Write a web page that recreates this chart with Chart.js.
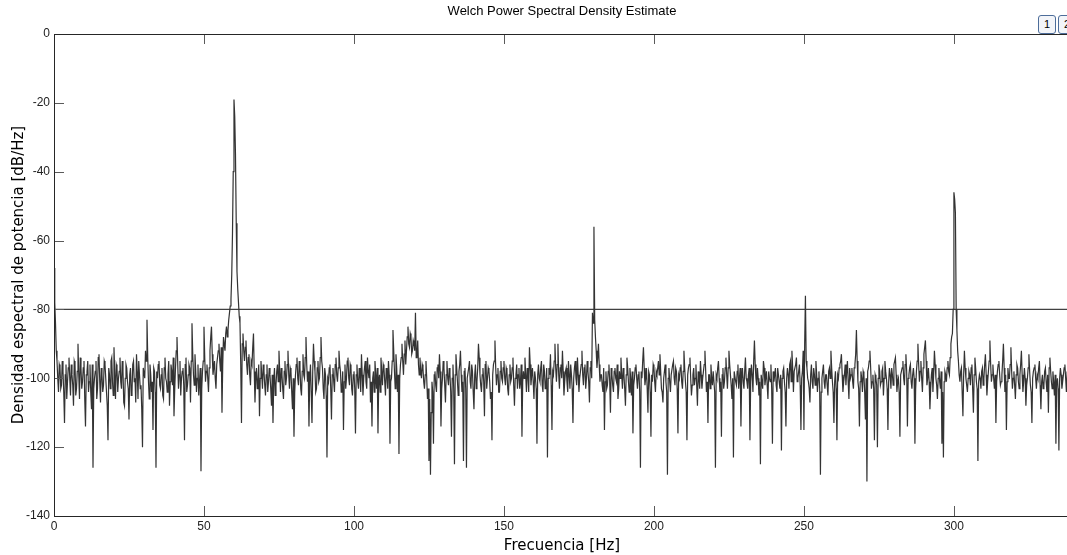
<!DOCTYPE html>
<html>
<head>
<meta charset="utf-8">
<script src="https://cdn.jsdelivr.net/npm/chart.js@4.4.1/dist/chart.umd.min.js"></script>
<style>
    html, body { margin: 0; padding: 0; background: #fff; overflow: hidden; width: 1067px; height: 555px; }
    #wrap { position: absolute; left: 0; top: 0; width: 1075px; height: 555px; }
    .btn { position: absolute; top: 15px; width: 16px; height: 17px; border: 1px solid #4d6d9a; border-radius: 3px;
           background: #f3f5f9; font: 11px "Liberation Sans", Arial, sans-serif; text-align: center; line-height: 17px; color: #000; }
</style>
</head>
<body>
<div id="wrap"><canvas id="psdChart" width="1075" height="555"></canvas></div>
<div class="btn" style="left:1038px">1</div>
<div class="btn" style="left:1058px">2</div>
<script>
// frequency step of the estimate (Hz) and axis limits
const df = 0.25;
const xMax = 338.7;
const xTicks = [0, 50, 100, 150, 200, 250, 300];
const yTicks = [0, -20, -40, -60, -80, -100, -120, -140];
const threshold = -80;

// PSD values in dB/Hz, on the whole half-hertz (f = 0, 0.5, 1, ...)
const psd000 = [ // 0 - 49.5 Hz
    -68, -84, -95, -104, -97, -102, -98, -113, -96, -101, -94, -105, -99, -108, -96, -103, -90, -106, -97, -101,
    -95, -114, -98, -104, -96, -109, -126, -100, -95, -103, -93, -107, -99, -102, -96, -104, -118, -99, -95, -101,
    -91, -106, -97, -100, -94, -103, -98, -108, -96, -101, -112, -97, -104, -95, -100, -93, -106, -99, -102, -120,
    -97, -92, -83, -101, -96, -104, -115, -98, -126, -100, -95, -103, -97, -106, -94, -101, -99, -108, -96, -102,
    -111, -97, -88, -103, -95, -100, -97, -118, -94, -102, -96, -107, -84, -99, -93, -104, -96, -101, -127, -98
];
const psd050 = [ // 50 - 99.5 Hz
    -85, -101, -96, -104, -92, -85, -99, -95, -103, -94, -90, -98, -110, -88, -92, -85, -86, -81, -77, -58,
    -19, -35, -69, -78, -84, -113, -87, -95, -89, -99, -93, -102, -96, -87, -107, -97, -101, -111, -95, -103,
    -98, -105, -96, -101, -99, -108, -113, -97, -102, -96, -92, -104, -99, -106, -95, -100, -92, -103, -98, -109,
    -117, -99, -94, -102, -97, -105, -93, -100, -88, -101, -114, -96, -113, -90, -98, -103, -95, -100, -88, -97,
    -106, -99, -123, -101, -96, -112, -97, -104, -94, -101, -92, -98, -103, -115, -96, -100, -94, -102, -97, -105
];
const psd100 = [ // 100 - 149.5 Hz
    -98, -116, -96, -103, -99, -93, -105, -97, -101, -94, -100, -107, -114, -98, -95, -103, -116, -99, -94, -102,
    -97, -105, -99, -95, -119, -100, -86, -98, -93, -104, -122, -96, -90, -99, -89, -92, -85, -91, -88, -92,
    -90, -81, -93, -96, -94, -100, -97, -103, -95, -106, -124, -128, -101, -119, -98, -104, -96, -93, -114, -100,
    -97, -107, -95, -102, -99, -117, -96, -125, -93, -101, -98, -92, -104, -124, -97, -126, -100, -95, -103, -98,
    -109, -96, -101, -90, -99, -104, -97, -111, -95, -100, -98, -106, -118, -96, -89, -102, -97, -104, -95, -101
];
const psd150 = [ // 150 - 199.5 Hz
    -95, -102, -98, -105, -96, -100, -94, -108, -99, -103, -97, -101, -117, -98, -94, -104, -99, -91, -102, -97,
    -106, -100, -119, -96, -101, -95, -104, -98, -102, -123, -97, -93, -115, -99, -90, -101, -90, -103, -96, -92,
    -105, -98, -101, -95, -103, -99, -113, -97, -100, -94, -104, -98, -92, -102, -96, -100, -98, -107, -95, -81,
    -56, -88, -97, -90, -101, -99, -104, -115, -98, -102, -96, -110, -99, -104, -97, -101, -106, -98, -94, -103,
    -99, -108, -94, -101, -97, -105, -116, -100, -96, -103, -98, -126, -100, -91, -102, -97, -110, -99, -117, -101
];
const psd200 = [ // 200 - 249.5 Hz
    -97, -104, -99, -95, -93, -103, -107, -98, -101, -128, -97, -104, -99, -95, -102, -98, -116, -100, -96, -103,
    -92, -101, -118, -97, -94, -105, -99, -102, -96, -108, -100, -95, -103, -98, -92, -104, -113, -99, -96, -102,
    -98, -126, -100, -95, -104, -117, -97, -101, -94, -103, -92, -99, -106, -123, -98, -102, -96, -100, -114, -97,
    -103, -94, -101, -99, -118, -96, -104, -89, -100, -97, -105, -125, -99, -95, -102, -98, -106, -100, -96, -119,
    -101, -97, -104, -99, -103, -121, -98, -101, -114, -97, -103, -95, -92, -104, -98, -94, -100, -96, -115, -98
];
const psd250 = [ // 250 - 299.5 Hz
    -115, -76, -97, -101, -107, -96, -103, -99, -95, -104, -98, -128, -100, -96, -103, -99, -105, -97, -92, -101,
    -113, -98, -118, -100, -96, -93, -104, -99, -102, -95, -106, -100, -97, -103, -96, -86, -101, -114, -98, -104,
    -99, -112, -130, -97, -92, -103, -99, -118, -100, -120, -96, -102, -98, -105, -95, -100, -115, -97, -103, -99,
    -96, -94, -104, -100, -117, -98, -95, -102, -93, -114, -99, -96, -103, -97, -119, -98, -90, -101, -95, -104,
    -93, -89, -102, -97, -109, -99, -104, -92, -100, -106, -97, -103, -119, -123, -98, -101, -95, -99, -90, -87
];
const psd300 = [ // 300 - 338.5 Hz
    -46, -52, -86, -95, -101, -97, -111, -92, -100, -104, -98, -102, -96, -110, -94, -101, -124, -99, -103, -97,
    -100, -93, -105, -98, -89, -101, -96, -103, -113, -98, -95, -102, -99, -90, -104, -115, -97, -100, -91, -103,
    -98, -106, -96, -101, -99, -92, -104, -97, -108, -100, -93, -102, -113, -98, -96, -103, -100, -95, -109, -99,
    -102, -97, -104, -110, -94, -101, -98, -105, -119, -100, -121, -97, -103, -99, -96, -104, -100, -98
];

// PSD values in between, on the quarter hertz (f = 0.25, 0.75, 1.25, ...)
const psd000q = [
    -78, -92, -100, -96, -103, -95, -104, -99, -106, -97, -100, -96, -102, -95, -105, -98, -99, -94, -103, -97,
    -106, -99, -95, -101, -104, -96, -103, -98, -106, -94, -101, -97, -104, -95, -100, -108, -97, -103, -94, -105,
    -99, -96, -104, -98, -101, -95, -107, -100, -97, -103, -99, -105, -96, -101, -107, -98, -95, -103, -109, -97,
    -100, -95, -94, -106, -99, -101, -97, -104, -98, -96, -102, -99, -105, -97, -100, -104, -95, -101, -98, -94,
    -103, -92, -96, -99, -105, -98, -102, -96, -104, -99, -97, -95, -93, -102, -98, -100, -105, -97, -103, -95
];
const psd050q = [
    -94, -98, -100, -97, -88, -93, -97, -100, -96, -92, -95, -91, -96, -90, -87, -88, -83, -79, -70, -40,
    -24, -55, -74, -82, -96, -90, -92, -91, -96, -94, -99, -95, -91, -98, -100, -103, -96, -100, -99, -96,
    -102, -99, -104, -97, -103, -99, -101, -105, -98, -101, -98, -97, -103, -98, -102, -96, -99, -97, -104, -100,
    -104, -96, -100, -95, -103, -98, -99, -94, -96, -98, -100, -104, -98, -95, -104, -97, -101, -94, -95, -103,
    -97, -105, -100, -97, -103, -99, -101, -96, -99, -97, -96, -104, -98, -101, -103, -95, -100, -96, -103, -99
];
const psd100q = [
    -103, -99, -101, -97, -104, -99, -100, -95, -103, -98, -96, -101, -100, -104, -99, -97, -101, -104, -98, -96,
    -101, -97, -103, -99, -101, -95, -92, -103, -97, -99, -100, -94, -95, -93, -96, -88, -90, -87, -93, -89,
    -92, -94, -89, -99, -98, -96, -101, -99, -100, -103, -106, -110, -104, -99, -102, -97, -100, -98, -103, -95,
    -102, -99, -100, -97, -104, -100, -103, -99, -97, -105, -96, -99, -101, -98, -103, -100, -97, -101, -96, -104,
    -99, -103, -97, -94, -102, -99, -101, -96, -103, -97, -101, -104, -99, -95, -97, -99, -104, -98, -100, -97
];
const psd150q = [
    -100, -97, -103, -99, -101, -97, -102, -100, -96, -99, -103, -96, -101, -100, -99, -97, -104, -96, -99, -101,
    -98, -103, -99, -100, -97, -102, -96, -103, -97, -100, -99, -102, -98, -95, -97, -96, -99, -97, -100, -98,
    -101, -97, -104, -99, -96, -103, -100, -95, -102, -99, -100, -96, -99, -97, -103, -95, -101, -97, -100, -84,
    -83, -92, -94, -96, -99, -102, -97, -101, -103, -98, -101, -97, -102, -98, -100, -96, -103, -100, -99, -97,
    -103, -99, -97, -104, -100, -98, -102, -97, -100, -99, -104, -98, -95, -97, -100, -103, -98, -104, -99, -96
];
const psd200q = [
    -101, -98, -97, -99, -98, -104, -100, -96, -104, -100, -101, -99, -96, -100, -97, -103, -99, -97, -101, -98,
    -97, -104, -99, -96, -100, -102, -97, -100, -102, -98, -103, -99, -100, -96, -98, -101, -99, -103, -100, -98,
    -104, -99, -97, -100, -101, -99, -103, -97, -99, -97, -96, -102, -100, -98, -101, -98, -103, -97, -100, -101,
    -98, -100, -103, -97, -101, -99, -95, -96, -102, -100, -101, -99, -103, -97, -100, -102, -98, -101, -103, -98,
    -99, -102, -97, -101, -99, -100, -97, -104, -100, -99, -96, -101, -97, -98, -96, -101, -98, -102, -100, -92
];
const psd250q = [
    -90, -95, -100, -103, -99, -101, -97, -102, -99, -100, -103, -104, -98, -101, -99, -102, -98, -100, -97, -104,
    -101, -103, -99, -97, -95, -99, -101, -96, -98, -101, -97, -99, -101, -97, -93, -95, -103, -101, -100, -98,
    -104, -100, -98, -95, -97, -101, -103, -99, -102, -100, -98, -101, -97, -100, -98, -103, -101, -99, -97, -102,
    -95, -99, -101, -104, -99, -97, -100, -96, -98, -100, -97, -101, -99, -100, -103, -95, -96, -98, -100, -97,
    -91, -95, -100, -101, -103, -97, -99, -96, -102, -100, -101, -98, -104, -101, -99, -97, -98, -94, -88, -80
];
const psd300q = [
    -48, -80, -92, -99, -98, -104, -99, -97, -102, -100, -99, -97, -103, -99, -97, -103, -101, -100, -98, -102,
    -96, -99, -101, -95, -96, -99, -100, -99, -101, -96, -99, -101, -95, -97, -99, -101, -100, -96, -98, -100,
    -102, -99, -97, -103, -96, -99, -101, -100, -102, -97, -98, -104, -100, -97, -100, -99, -97, -102, -101, -103,
    -98, -101, -99, -97, -98, -103, -101, -99, -102, -103, -100, -99, -101, -97, -100, -98, -102, -101
];

// put the half-hertz and quarter-hertz readings back in frequency order
function interleave(half, quarter) {
    const out = [];
    half.forEach((v, i) => {
        out.push(v);
        if (i < quarter.length) out.push(quarter[i]);
    });
    return out;
}

const psd = [
    ...interleave(psd000, psd000q), ...interleave(psd050, psd050q), ...interleave(psd100, psd100q),
    ...interleave(psd150, psd150q), ...interleave(psd200, psd200q), ...interleave(psd250, psd250q),
    ...interleave(psd300, psd300q)
];

// inward tick marks and the axes box, MATLAB style
const insideTicks = {
    id: 'insideTicks',
    afterDatasetsDraw(chart) {
        const { ctx, chartArea: a, scales: { x, y } } = chart;
        ctx.save();
        ctx.lineWidth = 1;
        ctx.strokeStyle = '#5a5a5a';
        ctx.beginPath();
        x.ticks.forEach(t => {
            const px = Math.round(x.getPixelForValue(t.value)) + 0.5;
            ctx.moveTo(px, a.bottom); ctx.lineTo(px, a.bottom - 10);
            ctx.moveTo(px, a.top); ctx.lineTo(px, a.top + 10);
        });
        y.ticks.forEach(t => {
            const py = Math.round(y.getPixelForValue(t.value)) + 0.5;
            ctx.moveTo(a.left, py); ctx.lineTo(a.left + 10, py);
        });
        ctx.stroke();
        ctx.strokeStyle = '#262626';
        ctx.strokeRect(Math.round(a.left) + 0.5, Math.round(a.top) + 0.5, a.right - a.left, a.bottom - a.top);
        ctx.restore();
    }
};

const ctx = document.getElementById('psdChart').getContext('2d');
new Chart(ctx, {
    type: 'line',
    data: {
        datasets: [
            {
                label: 'PSD',
                data: psd.map((v, i) => ({ x: i * df, y: v })),
                borderColor: '#333333',
                borderWidth: 1.2,
                pointRadius: 0,
                tension: 0
            },
            {
                label: 'Umbral',
                data: [{ x: 0, y: threshold }, { x: xMax, y: threshold }],
                borderColor: '#404040',
                borderWidth: 1.2,
                pointRadius: 0
            }
        ]
    },
    options: {
        responsive: false,
        animation: false,
        devicePixelRatio: 1,
        layout: { padding: { left: 0, right: 5, top: 0, bottom: 0 } },
        plugins: {
            legend: { display: false },
            tooltip: { enabled: false },
            title: {
                display: true,
                fullSize: false,
                text: 'Welch Power Spectral Density Estimate',
                color: '#000',
                font: { family: '"Liberation Sans", Arial, sans-serif', size: 13, weight: 'normal', lineHeight: 1.2 },
                padding: { top: 4, bottom: 14.4 }
            }
        },
        scales: {
            x: {
                type: 'linear',
                min: 0,
                max: xMax,
                afterBuildTicks: s => { s.ticks = xTicks.map(v => ({ value: v })); },
                afterFit: s => { s.height = 39; },
                grid: { display: false, drawTicks: false },
                border: { display: false },
                ticks: {
                    padding: 3,
                    color: '#222',
                    font: { family: '"Liberation Sans", Arial, sans-serif', size: 12 },
                    maxRotation: 0
                },
                title: {
                    display: true,
                    text: 'Frecuencia [Hz]',
                    color: '#000',
                    font: { family: '"DejaVu Sans", sans-serif', size: 15 },
                    padding: { top: 0, bottom: 0 }
                }
            },
            y: {
                min: -140,
                max: 0,
                afterBuildTicks: s => { s.ticks = yTicks.map(v => ({ value: v })); },
                afterFit: s => { s.width = 54; },
                grid: { display: false, drawTicks: false },
                border: { display: false },
                ticks: {
                    padding: 4,
                    color: '#222',
                    font: { family: '"Liberation Sans", Arial, sans-serif', size: 12 }
                },
                title: {
                    display: true,
                    text: 'Densidad espectral de potencia [dB/Hz]',
                    color: '#000',
                    font: { family: '"DejaVu Sans", sans-serif', size: 15 },
                    padding: { top: 10, bottom: 0 }
                }
            }
        }
    },
    plugins: [insideTicks]
});
</script>
</body>
</html>
